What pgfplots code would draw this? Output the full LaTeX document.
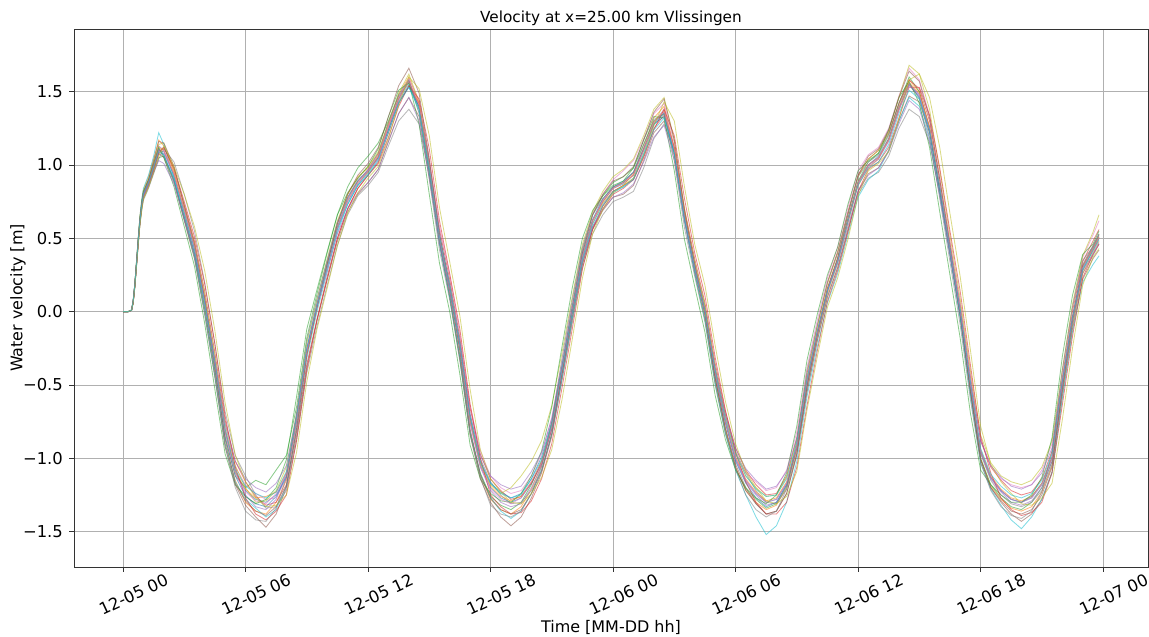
\documentclass[border=0pt]{standalone}
\usepackage{fontspec}
\setmainfont{DejaVu Sans}
\usepackage{pgfplots}
\usepackage{pgfplotstable}
\pgfplotsset{compat=1.18}

% matplotlib "tab10" colour cycle
\definecolor{c0}{HTML}{1F77B4}
\definecolor{c1}{HTML}{FF7F0E}
\definecolor{c2}{HTML}{2CA02C}
\definecolor{c3}{HTML}{D62728}
\definecolor{c4}{HTML}{9467BD}
\definecolor{c5}{HTML}{8C564B}
\definecolor{c6}{HTML}{E377C2}
\definecolor{c7}{HTML}{7F7F7F}
\definecolor{c8}{HTML}{BCBD22}
\definecolor{c9}{HTML}{17BECF}
\definecolor{gridgray}{HTML}{B0B0B0}

% Ensemble of water velocities at x = 25 km (Vlissingen)
% t: hours since 12-05 00:00, m1..m20: ensemble members
\pgfplotstableread{
t m1 m2 m3 m4 m5 m6 m7 m8 m9 m10 m11 m12 m13 m14 m15 m16 m17 m18 m19 m20
0 0 0 0 0 0 0 0 0 0 0 0 0 0 0 0 0 0 0 0 0
0.25 0 0 0 0 0 0 0 0 0 0 0 0 0 0 0 0 0 0 0 0
0.42 0.01 0.01 0.01 0.01 0.01 0.01 0.01 0.01 0.01 0.01 0.01 0.01 0.01 0.01 0.01 0.01 0.01 0.01 0.01 0.01
0.5 0.07 0.07 0.06 0.07 0.08 0.07 0.07 0.06 0.07 0.08 0.07 0.07 0.07 0.06 0.07 0.07 0.07 0.08 0.06 0.07
0.58 0.18 0.19 0.17 0.18 0.19 0.18 0.18 0.17 0.18 0.19 0.18 0.18 0.19 0.17 0.18 0.18 0.18 0.19 0.17 0.18
0.67 0.34 0.36 0.33 0.34 0.35 0.34 0.33 0.33 0.35 0.36 0.34 0.34 0.35 0.33 0.34 0.34 0.34 0.35 0.32 0.34
0.75 0.49 0.51 0.47 0.49 0.50 0.48 0.48 0.47 0.50 0.51 0.49 0.49 0.50 0.47 0.48 0.49 0.49 0.50 0.46 0.49
0.83 0.62 0.65 0.60 0.62 0.63 0.61 0.61 0.60 0.64 0.65 0.62 0.63 0.64 0.60 0.61 0.62 0.62 0.63 0.59 0.62
0.92 0.73 0.76 0.70 0.72 0.74 0.72 0.71 0.70 0.75 0.77 0.73 0.74 0.75 0.71 0.72 0.74 0.73 0.74 0.69 0.73
1.0 0.80 0.83 0.77 0.80 0.81 0.79 0.78 0.76 0.82 0.84 0.80 0.81 0.82 0.78 0.79 0.81 0.80 0.81 0.77 0.80
1.25 0.88 0.92 0.85 0.87 0.90 0.87 0.86 0.84 0.90 0.93 0.88 0.89 0.90 0.86 0.86 0.90 0.88 0.89 0.85 0.88
1.5 0.99 1.04 0.95 0.98 1.01 0.97 0.96 0.94 1.02 1.06 0.99 1.00 1.01 0.96 0.95 1.03 0.99 1.00 0.95 0.98
1.75 1.10 1.17 1.05 1.09 1.13 1.08 1.07 1.04 1.14 1.22 1.11 1.12 1.12 1.08 1.03 1.16 1.10 1.11 1.06 1.09
2.0 1.09 1.13 1.06 1.12 1.10 1.05 1.08 1.11 1.15 1.14 1.07 1.10 1.05 1.12 1.01 1.15 1.10 1.06 1.13 1.07
2.5 0.93 0.95 0.90 0.97 0.92 0.88 0.94 1.02 0.96 0.91 0.89 0.94 0.85 0.98 0.87 0.99 0.94 0.89 0.99 0.91
3.0 0.68 0.66 0.63 0.73 0.70 0.62 0.69 0.80 0.72 0.64 0.65 0.70 0.58 0.75 0.63 0.72 0.69 0.63 0.80 0.67
3.5 0.43 0.40 0.38 0.48 0.44 0.36 0.45 0.55 0.47 0.38 0.40 0.44 0.31 0.51 0.40 0.46 0.44 0.37 0.58 0.42
4.0 0.08 0.03 0.02 0.14 0.08 -0.02 0.10 0.20 0.12 0.00 0.05 0.09 -0.08 0.19 0.07 0.09 0.07 -0.01 0.28 0.07
4.5 -0.35 -0.42 -0.40 -0.28 -0.36 -0.45 -0.33 -0.22 -0.30 -0.44 -0.38 -0.34 -0.53 -0.22 -0.33 -0.37 -0.36 -0.44 -0.13 -0.34
5.0 -0.82 -0.90 -0.86 -0.74 -0.80 -0.92 -0.79 -0.68 -0.77 -0.90 -0.85 -0.81 -0.97 -0.71 -0.76 -0.87 -0.83 -0.92 -0.62 -0.80
5.5 -1.10 -1.15 -1.12 -1.02 -1.08 -1.18 -1.06 -0.98 -1.05 -1.16 -1.12 -1.09 -1.18 -1.06 -1.02 -1.17 -1.11 -1.20 -0.98 -1.08
6.0 -1.22 -1.30 -1.20 -1.16 -1.25 -1.32 -1.18 -1.12 -1.20 -1.28 -1.26 -1.21 -1.26 -1.27 -1.14 -1.29 -1.23 -1.36 -1.16 -1.19
6.5 -1.28 -1.36 -1.15 -1.26 -1.33 -1.40 -1.24 -1.25 -1.30 -1.34 -1.31 -1.27 -1.31 -1.38 -1.20 -1.36 -1.29 -1.42 -1.27 -1.24
7.0 -1.30 -1.38 -1.18 -1.32 -1.35 -1.47 -1.28 -1.34 -1.29 -1.40 -1.33 -1.26 -1.28 -1.42 -1.23 -1.39 -1.31 -1.43 -1.33 -1.27
7.5 -1.25 -1.30 -1.08 -1.30 -1.28 -1.38 -1.27 -1.33 -1.22 -1.35 -1.26 -1.23 -1.20 -1.36 -1.17 -1.33 -1.24 -1.34 -1.32 -1.23
8.0 -1.12 -1.15 -0.98 -1.18 -1.10 -1.20 -1.14 -1.22 -1.06 -1.19 -1.13 -1.10 -1.01 -1.25 -1.05 -1.19 -1.11 -1.13 -1.25 -1.09
8.5 -0.75 -0.78 -0.65 -0.82 -0.72 -0.85 -0.76 -0.88 -0.70 -0.80 -0.74 -0.73 -0.58 -0.88 -0.70 -0.80 -0.74 -0.69 -0.96 -0.72
9.0 -0.28 -0.30 -0.18 -0.36 -0.25 -0.38 -0.28 -0.42 -0.22 -0.32 -0.26 -0.27 -0.12 -0.40 -0.26 -0.30 -0.27 -0.20 -0.48 -0.25
9.5 0.03 0.02 0.12 -0.05 0.06 -0.06 0.03 -0.10 0.08 0.00 0.05 0.04 0.15 -0.06 0.03 0.03 0.04 0.09 -0.12 0.04
10.0 0.30 0.32 0.40 0.24 0.34 0.22 0.31 0.18 0.36 0.27 0.33 0.31 0.41 0.22 0.28 0.32 0.30 0.35 0.16 0.30
10.5 0.57 0.60 0.66 0.50 0.60 0.48 0.56 0.45 0.62 0.54 0.58 0.57 0.66 0.50 0.53 0.60 0.57 0.61 0.45 0.56
11.0 0.75 0.80 0.85 0.70 0.78 0.68 0.74 0.66 0.80 0.73 0.77 0.76 0.81 0.70 0.70 0.80 0.76 0.78 0.67 0.73
11.5 0.87 0.92 0.98 0.84 0.90 0.80 0.86 0.79 0.91 0.86 0.89 0.88 0.91 0.84 0.81 0.93 0.88 0.89 0.81 0.86
12.0 0.95 0.98 1.06 0.93 0.96 0.88 0.97 0.86 0.99 0.94 0.96 0.95 0.99 0.93 0.88 1.01 0.96 0.97 0.91 0.93
12.5 1.05 1.08 1.15 1.02 1.07 0.97 1.06 0.95 1.09 1.04 1.05 1.06 1.11 1.01 0.97 1.12 1.04 1.08 0.99 1.03
13.0 1.25 1.28 1.30 1.22 1.27 1.16 1.26 1.13 1.29 1.24 1.24 1.26 1.33 1.19 1.16 1.33 1.26 1.29 1.18 1.22
13.5 1.45 1.48 1.47 1.42 1.46 1.35 1.46 1.30 1.49 1.44 1.43 1.45 1.51 1.40 1.35 1.54 1.44 1.48 1.41 1.42
14.0 1.57 1.60 1.56 1.54 1.58 1.46 1.59 1.38 1.62 1.55 1.53 1.57 1.56 1.54 1.46 1.66 1.57 1.58 1.60 1.53
14.5 1.40 1.42 1.38 1.42 1.39 1.33 1.44 1.28 1.43 1.36 1.40 1.41 1.28 1.45 1.30 1.49 1.41 1.35 1.52 1.38
15.0 0.98 0.98 0.95 1.03 0.96 0.94 1.04 0.92 1.00 0.95 1.00 0.99 0.80 1.11 0.91 1.04 0.99 0.90 1.20 0.98
15.5 0.50 0.48 0.46 0.56 0.49 0.47 0.58 0.50 0.52 0.46 0.53 0.51 0.33 0.62 0.47 0.53 0.51 0.42 0.71 0.51
16.0 0.15 0.12 0.10 0.22 0.14 0.10 0.25 0.20 0.17 0.10 0.18 0.16 0.00 0.26 0.14 0.16 0.16 0.08 0.34 0.17
16.5 -0.25 -0.30 -0.32 -0.18 -0.26 -0.33 -0.15 -0.20 -0.24 -0.31 -0.22 -0.24 -0.43 -0.12 -0.23 -0.27 -0.24 -0.34 -0.03 -0.23
17.0 -0.75 -0.82 -0.83 -0.66 -0.76 -0.84 -0.64 -0.70 -0.73 -0.82 -0.72 -0.74 -0.91 -0.63 -0.70 -0.80 -0.76 -0.84 -0.53 -0.72
17.5 -1.05 -1.12 -1.10 -0.97 -1.06 -1.14 -0.95 -1.00 -1.03 -1.11 -1.02 -1.04 -1.14 -1.00 -0.98 -1.11 -1.06 -1.13 -0.94 -1.03
18.0 -1.20 -1.28 -1.26 -1.14 -1.22 -1.30 -1.12 -1.16 -1.18 -1.27 -1.17 -1.19 -1.24 -1.25 -1.12 -1.27 -1.21 -1.32 -1.14 -1.17
18.5 -1.27 -1.35 -1.32 -1.22 -1.30 -1.40 -1.20 -1.25 -1.24 -1.36 -1.23 -1.26 -1.29 -1.33 -1.18 -1.35 -1.28 -1.38 -1.23 -1.24
19.0 -1.30 -1.38 -1.35 -1.28 -1.33 -1.46 -1.24 -1.31 -1.20 -1.41 -1.27 -1.29 -1.30 -1.38 -1.21 -1.38 -1.31 -1.40 -1.30 -1.27
19.5 -1.27 -1.33 -1.30 -1.26 -1.31 -1.40 -1.22 -1.30 -1.12 -1.36 -1.24 -1.26 -1.24 -1.37 -1.19 -1.35 -1.27 -1.36 -1.31 -1.25
20.0 -1.17 -1.21 -1.18 -1.17 -1.20 -1.27 -1.12 -1.22 -1.02 -1.24 -1.14 -1.16 -1.12 -1.29 -1.09 -1.24 -1.16 -1.24 -1.24 -1.14
20.5 -1.03 -1.05 -1.02 -1.04 -1.05 -1.10 -0.97 -1.08 -0.88 -1.08 -0.99 -1.02 -0.95 -1.14 -0.96 -1.09 -1.03 -1.06 -1.13 -1.01
21.0 -0.78 -0.80 -0.76 -0.80 -0.80 -0.85 -0.72 -0.84 -0.64 -0.83 -0.75 -0.77 -0.65 -0.90 -0.73 -0.83 -0.78 -0.75 -0.94 -0.77
21.5 -0.40 -0.42 -0.37 -0.43 -0.41 -0.46 -0.34 -0.47 -0.28 -0.45 -0.37 -0.39 -0.24 -0.52 -0.37 -0.42 -0.40 -0.32 -0.60 -0.39
22.0 0.00 -0.02 0.04 -0.04 0.00 -0.06 0.06 -0.08 0.10 -0.05 0.03 0.01 0.16 -0.12 0.00 0.00 0.01 0.08 -0.19 -0.01
22.5 0.38 0.36 0.42 0.33 0.38 0.32 0.43 0.30 0.46 0.34 0.40 0.38 0.50 0.29 0.35 0.40 0.38 0.44 0.23 0.36
23.0 0.62 0.60 0.66 0.57 0.62 0.56 0.67 0.53 0.68 0.58 0.63 0.62 0.69 0.56 0.58 0.66 0.62 0.66 0.53 0.60
23.5 0.75 0.74 0.79 0.70 0.76 0.69 0.80 0.66 0.82 0.72 0.77 0.75 0.79 0.72 0.70 0.80 0.76 0.77 0.70 0.73
24.0 0.84 0.82 0.88 0.80 0.85 0.78 0.90 0.75 0.92 0.81 0.85 0.84 0.86 0.82 0.78 0.89 0.84 0.85 0.81 0.82
24.5 0.87 0.86 0.92 0.84 0.88 0.80 0.96 0.78 0.97 0.85 0.89 0.88 0.89 0.86 0.81 0.92 0.88 0.88 0.86 0.85
25.0 0.93 0.94 0.98 0.90 0.95 0.86 1.03 0.82 1.04 0.91 0.95 0.93 0.98 0.90 0.87 0.99 0.93 0.95 0.91 0.90
25.5 1.10 1.12 1.14 1.06 1.11 1.03 1.18 0.98 1.20 1.08 1.11 1.10 1.17 1.05 1.02 1.17 1.10 1.14 1.07 1.07
26.0 1.28 1.32 1.30 1.25 1.29 1.22 1.35 1.18 1.38 1.27 1.28 1.29 1.33 1.24 1.19 1.36 1.29 1.31 1.27 1.24
26.5 1.36 1.40 1.35 1.34 1.38 1.30 1.42 1.28 1.46 1.35 1.33 1.37 1.32 1.38 1.27 1.45 1.36 1.35 1.43 1.32
27.0 1.10 1.12 1.08 1.12 1.11 1.06 1.15 1.09 1.17 1.08 1.08 1.11 0.96 1.20 1.03 1.17 1.10 1.03 1.30 1.08
27.5 0.65 0.66 0.62 0.70 0.66 0.63 0.68 0.67 0.70 0.62 0.64 0.66 0.49 0.77 0.61 0.69 0.65 0.57 0.85 0.64
28.0 0.30 0.29 0.26 0.36 0.30 0.28 0.32 0.33 0.34 0.26 0.30 0.31 0.17 0.40 0.28 0.32 0.30 0.24 0.46 0.30
28.5 0.00 -0.03 -0.05 0.06 0.00 -0.02 0.02 0.04 0.04 -0.06 0.00 0.01 -0.14 0.11 0.00 0.00 0.00 -0.07 0.18 0.01
29.0 -0.42 -0.46 -0.48 -0.35 -0.42 -0.45 -0.40 -0.38 -0.38 -0.49 -0.43 -0.41 -0.57 -0.31 -0.39 -0.45 -0.42 -0.50 -0.23 -0.40
29.5 -0.75 -0.80 -0.82 -0.68 -0.75 -0.79 -0.72 -0.70 -0.71 -0.83 -0.76 -0.74 -0.87 -0.67 -0.70 -0.80 -0.75 -0.83 -0.61 -0.73
30.0 -1.00 -1.06 -1.07 -0.93 -1.01 -1.04 -0.97 -0.95 -0.96 -1.08 -1.02 -0.99 -1.08 -0.96 -0.93 -1.06 -1.00 -1.07 -0.90 -0.97
30.5 -1.15 -1.22 -1.21 -1.08 -1.16 -1.20 -1.10 -1.10 -1.12 -1.25 -1.17 -1.14 -1.20 -1.16 -1.07 -1.22 -1.15 -1.25 -1.09 -1.12
31.0 -1.24 -1.30 -1.28 -1.18 -1.25 -1.31 -1.16 -1.22 -1.20 -1.40 -1.27 -1.23 -1.27 -1.30 -1.15 -1.31 -1.24 -1.35 -1.20 -1.21
31.5 -1.30 -1.35 -1.34 -1.25 -1.32 -1.38 -1.22 -1.30 -1.26 -1.52 -1.33 -1.29 -1.31 -1.38 -1.21 -1.38 -1.30 -1.40 -1.29 -1.26
32.0 -1.28 -1.32 -1.31 -1.24 -1.30 -1.36 -1.20 -1.31 -1.25 -1.46 -1.30 -1.27 -1.25 -1.38 -1.19 -1.36 -1.28 -1.36 -1.31 -1.25
32.5 -1.17 -1.20 -1.19 -1.12 -1.18 -1.24 -1.08 -1.21 -1.13 -1.30 -1.18 -1.16 -1.10 -1.30 -1.09 -1.24 -1.17 -1.21 -1.26 -1.14
33.0 -0.92 -0.95 -0.93 -0.86 -0.93 -0.98 -0.82 -0.97 -0.87 -1.02 -0.92 -0.91 -0.78 -1.06 -0.86 -0.97 -0.92 -0.88 -1.09 -0.89
33.5 -0.48 -0.52 -0.50 -0.42 -0.49 -0.55 -0.38 -0.54 -0.44 -0.58 -0.48 -0.47 -0.33 -0.64 -0.45 -0.51 -0.48 -0.40 -0.67 -0.46
34.0 -0.15 -0.18 -0.16 -0.10 -0.15 -0.20 -0.06 -0.20 -0.11 -0.24 -0.15 -0.14 -0.02 -0.27 -0.14 -0.16 -0.15 -0.09 -0.31 -0.13
34.5 0.15 0.12 0.14 0.20 0.15 0.10 0.23 0.10 0.19 0.06 0.15 0.16 0.25 0.07 0.14 0.16 0.15 0.20 0.03 0.14
35.0 0.35 0.33 0.36 0.41 0.35 0.30 0.44 0.30 0.40 0.26 0.36 0.36 0.44 0.28 0.33 0.37 0.35 0.40 0.23 0.34
35.5 0.62 0.60 0.63 0.68 0.62 0.56 0.71 0.55 0.66 0.52 0.63 0.62 0.73 0.54 0.58 0.66 0.62 0.67 0.49 0.61
36.0 0.88 0.86 0.89 0.93 0.87 0.82 0.96 0.80 0.92 0.78 0.88 0.88 0.96 0.82 0.82 0.93 0.88 0.92 0.79 0.86
36.5 1.00 0.98 1.02 1.04 0.99 0.94 1.07 0.91 1.04 0.90 1.00 1.00 1.03 0.97 0.93 1.06 1.00 1.02 0.96 0.98
37.0 1.05 1.04 1.08 1.10 1.04 0.98 1.12 0.95 1.10 0.96 1.06 1.05 1.08 1.02 0.98 1.11 1.05 1.07 1.01 1.02
37.5 1.17 1.18 1.21 1.22 1.16 1.10 1.25 1.06 1.23 1.10 1.18 1.17 1.24 1.12 1.09 1.24 1.17 1.20 1.09 1.14
38.0 1.38 1.40 1.42 1.42 1.37 1.30 1.47 1.25 1.46 1.30 1.39 1.38 1.46 1.32 1.28 1.46 1.38 1.42 1.31 1.35
38.5 1.55 1.58 1.60 1.58 1.54 1.47 1.66 1.38 1.68 1.46 1.55 1.56 1.57 1.53 1.44 1.64 1.55 1.56 1.58 1.51
39.0 1.48 1.50 1.50 1.52 1.47 1.43 1.58 1.33 1.62 1.40 1.46 1.49 1.42 1.53 1.38 1.57 1.48 1.45 1.62 1.45
39.5 1.25 1.26 1.25 1.30 1.24 1.22 1.34 1.15 1.38 1.18 1.22 1.26 1.12 1.34 1.16 1.32 1.25 1.19 1.46 1.24
40.0 0.85 0.84 0.83 0.90 0.84 0.82 0.92 0.80 0.96 0.80 0.83 0.86 0.68 0.98 0.79 0.90 0.85 0.77 1.12 0.85
40.5 0.42 0.40 0.40 0.47 0.41 0.39 0.48 0.40 0.52 0.38 0.41 0.43 0.25 0.55 0.39 0.45 0.42 0.34 0.67 0.43
41.0 0.00 -0.03 -0.03 0.05 -0.01 -0.04 0.06 -0.02 0.09 -0.05 -0.01 0.01 -0.18 0.14 0.00 0.00 0.00 -0.09 0.24 0.02
41.5 -0.50 -0.54 -0.55 -0.44 -0.51 -0.55 -0.43 -0.52 -0.40 -0.57 -0.50 -0.49 -0.69 -0.36 -0.47 -0.53 -0.50 -0.60 -0.26 -0.48
42.0 -0.95 -1.00 -1.00 -0.88 -0.96 -1.01 -0.87 -0.97 -0.84 -1.03 -0.95 -0.94 -1.08 -0.85 -0.88 -1.01 -0.95 -1.03 -0.78 -0.93
42.5 -1.13 -1.19 -1.18 -1.06 -1.14 -1.20 -1.05 -1.15 -1.03 -1.21 -1.13 -1.12 -1.18 -1.10 -1.05 -1.20 -1.13 -1.22 -1.04 -1.11
43.0 -1.22 -1.28 -1.27 -1.15 -1.23 -1.30 -1.14 -1.25 -1.12 -1.32 -1.22 -1.21 -1.25 -1.27 -1.13 -1.29 -1.22 -1.33 -1.16 -1.19
43.5 -1.28 -1.34 -1.33 -1.22 -1.30 -1.38 -1.18 -1.31 -1.16 -1.42 -1.28 -1.27 -1.30 -1.35 -1.19 -1.36 -1.28 -1.39 -1.24 -1.25
44.0 -1.30 -1.36 -1.35 -1.25 -1.32 -1.43 -1.20 -1.33 -1.18 -1.48 -1.30 -1.29 -1.30 -1.39 -1.21 -1.38 -1.30 -1.41 -1.31 -1.27
44.5 -1.27 -1.33 -1.30 -1.23 -1.29 -1.38 -1.18 -1.30 -1.15 -1.40 -1.26 -1.26 -1.25 -1.37 -1.18 -1.35 -1.27 -1.36 -1.32 -1.24
45.0 -1.18 -1.23 -1.20 -1.14 -1.20 -1.28 -1.08 -1.22 -1.06 -1.28 -1.17 -1.17 -1.13 -1.30 -1.10 -1.25 -1.18 -1.23 -1.27 -1.15
45.5 -1.00 -1.05 -1.02 -0.95 -1.02 -1.09 -0.90 -1.04 -0.88 -1.10 -0.99 -0.99 -0.86 -1.10 -0.93 -1.06 -1.00 -0.95 -1.17 -0.97
46.0 -0.50 -0.55 -0.52 -0.45 -0.51 -0.58 -0.42 -0.55 -0.40 -0.60 -0.49 -0.49 -0.31 -0.64 -0.47 -0.53 -0.50 -0.40 -0.74 -0.48
46.5 -0.05 -0.10 -0.07 0.00 -0.05 -0.12 0.03 -0.09 0.05 -0.14 -0.04 -0.04 0.11 -0.17 -0.05 -0.05 -0.05 0.03 -0.25 -0.04
47.0 0.30 0.26 0.28 0.34 0.30 0.22 0.37 0.26 0.38 0.20 0.31 0.31 0.39 0.23 0.28 0.32 0.30 0.35 0.18 0.29
47.5 0.42 0.40 0.42 0.48 0.43 0.36 0.52 0.38 0.54 0.32 0.44 0.43 0.46 0.39 0.39 0.45 0.42 0.44 0.37 0.41
47.8 0.50 0.48 0.50 0.56 0.51 0.42 0.62 0.46 0.66 0.38 0.52 0.51 0.55 0.46 0.47 0.53 0.50 0.53 0.43 0.49
}\ensemble

\begin{document}
\begin{tikzpicture}
% page frame around the axis box
\path[use as bounding box] (-53.28bp,-50.4bp) rectangle (774bp,408.24bp);
\begin{axis}[
  at={(0,0)}, anchor=south west,
  scale only axis,
  width=773.28bp, height=387.36bp,
  xmin=-2.40, xmax=50.20,
  ymin=-1.741, ymax=1.927,
  xtick={0,6,12,18,24,30,36,42,48},
  xticklabels={12-05 00,12-05 06,12-05 12,12-05 18,12-06 00,12-06 06,12-06 12,12-06 18,12-07 00},
  ytick={-1.5,-1,-0.5,0,0.5,1,1.5},
  yticklabels={−1.5,−1.0,−0.5,0.0,0.5,1.0,1.5},
  xtick pos=bottom, ytick pos=left,
  tick align=outside,
  major tick length=3.5bp,
  tick style={black!80, line width=0.6bp},
  axis line style={black!80, line width=0.6bp},
  grid=major,
  grid style={gridgray, line width=0.6bp},
  tick label style={font=\fontsize{11.8bp}{14bp}\selectfont},
  xticklabel style={rotate=25, anchor=center, yshift=-18bp},
  yticklabel style={anchor=east, xshift=-1bp},
  title={Velocity at x=25.00 km Vlissingen},
  every axis title shift=0pt,
  title style={inner sep=2bp, font=\fontsize{11bp}{13bp}\selectfont},
  xlabel={Time [MM-DD hh]},
  xlabel style={at={(axis description cs:0.5,0)}, anchor=center, yshift=-43.2bp,
    font=\fontsize{11.5bp}{13bp}\selectfont},
  ylabel={Water velocity [m]},
  ylabel style={at={([xshift=-40.3bp]axis description cs:0,0.5)}, anchor=center,
    font=\fontsize{11.5bp}{13bp}\selectfont},
  every axis plot/.append style={line width=0.6bp, opacity=0.55},
]
\addplot[c0] table[x=t, y=m1] {\ensemble};
\addplot[c1] table[x=t, y=m2] {\ensemble};
\addplot[c2] table[x=t, y=m3] {\ensemble};
\addplot[c3] table[x=t, y=m4] {\ensemble};
\addplot[c4] table[x=t, y=m5] {\ensemble};
\addplot[c5] table[x=t, y=m6] {\ensemble};
\addplot[c6] table[x=t, y=m7] {\ensemble};
\addplot[c7] table[x=t, y=m8] {\ensemble};
\addplot[c8] table[x=t, y=m9] {\ensemble};
\addplot[c9] table[x=t, y=m10] {\ensemble};
\addplot[c0] table[x=t, y=m11] {\ensemble};
\addplot[c1] table[x=t, y=m12] {\ensemble};
\addplot[c2] table[x=t, y=m13] {\ensemble};
\addplot[c3] table[x=t, y=m14] {\ensemble};
\addplot[c4] table[x=t, y=m15] {\ensemble};
\addplot[c5] table[x=t, y=m16] {\ensemble};
\addplot[c6] table[x=t, y=m17] {\ensemble};
\addplot[c7] table[x=t, y=m18] {\ensemble};
\addplot[c8] table[x=t, y=m19] {\ensemble};
\addplot[c9] table[x=t, y=m20] {\ensemble};
\end{axis}
\end{tikzpicture}
\end{document}
